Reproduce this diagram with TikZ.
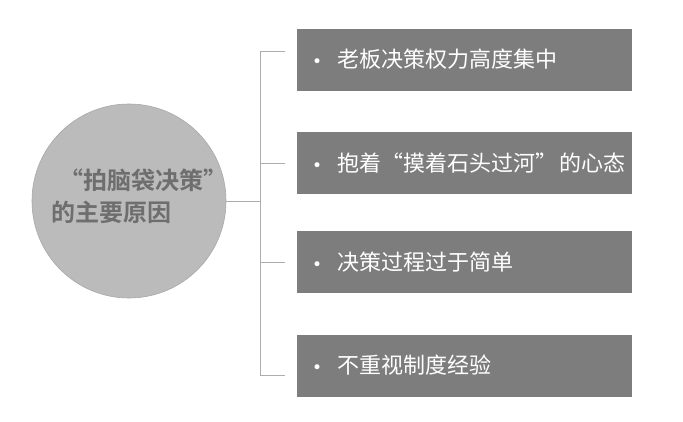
\documentclass[tikz,border=0pt]{standalone}
\usepackage{fontspec}
\newfontfamily\cjk{Noto Sans CJK SC}
\newfontfamily\cjkb{Noto Sans CJK SC Bold}
\newfontfamily\dv{DejaVu Sans}
\definecolor{circfill}{HTML}{BBBBBB}
\definecolor{circtext}{HTML}{6E6E6E}
\definecolor{boxfill}{HTML}{7D7D7D}
\definecolor{linecol}{HTML}{ADADAD}
\newcommand{\itemline}[1]{\hspace{15pt}\makebox[25pt][l]{\dv\fontsize{17}{20}\selectfont •}\makebox[295pt][l]{\cjk\fontsize{22}{26}\selectfont #1}}
\begin{document}
\begin{tikzpicture}[x=1pt,y=-1pt,
  hub/.style={circle,fill=circfill,draw=circfill!90!black,line width=0.6pt,minimum size=194pt,inner sep=0pt},
  itembox/.style={rectangle,fill=boxfill,minimum width=335pt,minimum height=62pt,inner xsep=0pt,inner ysep=0pt,text=white,anchor=west},
  conn/.style={draw=linecol,line width=1pt}]
\useasboundingbox[fill=white] (0,0) rectangle (683,421);
\node[hub] (c) at (129,201) {};
\node[anchor=west,align=left,text=circtext,font={\cjkb\fontsize{24}{32}\selectfont},inner sep=0pt] (ct) at (51,196) {\hspace{8pt}“拍脑袋决策”\\的主要原因};
\node[itembox] (b1) at (297,59.5) {\itemline{老板决策权力高度集中}};
\node[itembox] (b2) at (297,163) {\itemline{抱着“摸着石头过河”\hspace{2pt}的心态}};
\node[itembox] (b3) at (297,262) {\itemline{决策过程过于简单}};
\node[itembox] (b4) at (297,365.5) {\itemline{不重视制度经验}};
\coordinate (h) at (260,201);
\coordinate (t1) at (260,51);
\coordinate (t4) at (260,375);
\coordinate (j1) at (285,51);
\coordinate (j2) at (285,163);
\coordinate (j3) at (285,262);
\coordinate (j4) at (285,375);
\draw[conn] (c.east) -- (h);
\draw[conn] (j1) -- (t1) -- (t4) -- (j4);
\draw[conn] (j2) -- (j2 -| h);
\draw[conn] (j3) -- (j3 -| h);
\end{tikzpicture}
\end{document}
